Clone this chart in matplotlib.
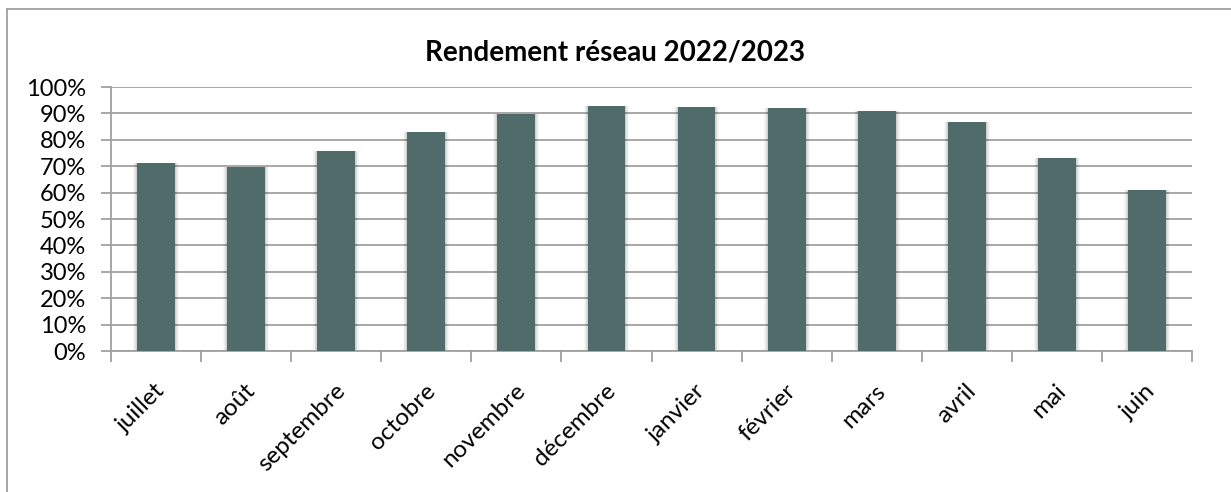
import matplotlib
matplotlib.use("Agg")
import matplotlib.pyplot as plt
from matplotlib.ticker import FixedLocator, PercentFormatter
from matplotlib.lines import Line2D
from matplotlib.transforms import ScaledTranslation

months = ["juillet", "août", "septembre", "octobre", "novembre", "décembre",
          "janvier", "février", "mars", "avril", "mai", "juin"]
rendement = [71.1, 69.8, 75.6, 82.8, 89.7, 92.8, 92.4, 92.0, 90.9, 86.7, 73.0, 60.9]
title = "Rendement réseau 2022/2023"
yticks = list(range(0, 101, 10))

plt.rcParams['font.family'] = ['Lato', 'DejaVu Sans']

W, H = 1231, 492
fig = plt.figure(figsize=(W / 100, H / 100), dpi=100)
ax = fig.add_axes([111 / W, 1 - 351 / H, (1192 - 111) / W, (351 - 87) / H])

x = list(range(len(months)))
bw = 0.42
# soft shadow
for k, a in [(4, 0.03), (3, 0.04), (2, 0.05), (1, 0.07)]:
    ax.bar(x, rendement, width=bw + k * 0.022, color="#000000", alpha=a,
           linewidth=0, zorder=2)
ax.bar(x, rendement, width=bw, color="#4F6C6B", linewidth=0, zorder=3)

ax.set_xlim(-0.5, len(months) - 0.5)
ax.set_ylim(0, 100)
ax.yaxis.set_major_locator(FixedLocator(yticks))
ax.yaxis.set_major_formatter(PercentFormatter(decimals=0))
ax.grid(axis='y', color="#A0A0A0", linewidth=1.3, zorder=0)
ax.set_axisbelow(True)

for s in ["top", "right"]:
    ax.spines[s].set_visible(False)
for s in ["left", "bottom"]:
    ax.spines[s].set_color("#A0A0A0")
    ax.spines[s].set_linewidth(1.3)

ax.tick_params(axis='y', length=7, width=1.3, color="#A0A0A0", labelsize=17,
               pad=11, labelcolor="black")
ax.set_xticks(x)
ax.set_xticklabels(months, rotation=45, ha='right', rotation_mode='anchor',
                   fontsize=17.5)
ax.tick_params(axis='x', which='major', length=0, pad=21)
offset = ScaledTranslation(-2 / 100, 0, fig.dpi_scale_trans)
for lab in ax.get_xticklabels():
    lab.set_transform(lab.get_transform() + offset)
ax.set_xticks([i - 0.5 for i in range(len(months) + 1)], minor=True)
ax.tick_params(axis='x', which='minor', length=8, width=1.3, color="#A0A0A0")

fig.text(615 / W, 1 - 53 / H, title, ha='center', va='center',
         fontsize=20, fontweight='bold')

# outer chart border
fig.add_artist(Line2D([7 / W, 7 / W], [0, 1 - 9 / H], transform=fig.transFigure,
                      color="#A0A0A0", linewidth=1.3))
fig.add_artist(Line2D([7 / W, 1], [1 - 9 / H, 1 - 9 / H], transform=fig.transFigure,
                      color="#A0A0A0", linewidth=1.3))

fig.savefig("out.png", dpi=100)
